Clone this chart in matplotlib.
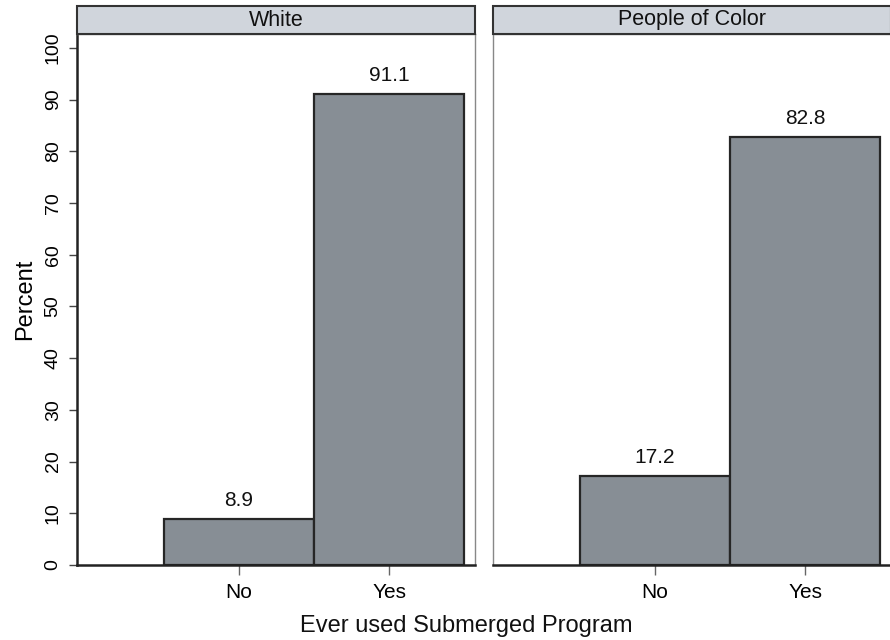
import matplotlib.pyplot as plt
from matplotlib.patches import Rectangle

plt.rcParams['font.family'] = ['Liberation Sans', 'DejaVu Sans']

categories = ['No', 'Yes']
panels = ['White', 'People of Color']
white_pct = [8.9, 91.1]
poc_pct = [17.2, 82.8]
yticks = [0, 10, 20, 30, 40, 50, 60, 70, 80, 90, 100]

bar_color = '#878e95'
edge_color = '#262626'
strip_color = '#d0d5dc'

fig = plt.figure(figsize=(8.9, 6.4), dpi=100)
ax_w = fig.add_axes([77 / 890, 1 - 565 / 640, 398 / 890, 531 / 640])
ax_p = fig.add_axes([493 / 890, 1 - 565 / 640, 398 / 890, 531 / 640])

for ax, title, vals in zip([ax_w, ax_p], panels, [white_pct, poc_pct]):
    x = list(range(len(categories)))
    bars = ax.bar(x, vals, width=1.0, color=bar_color, edgecolor=edge_color, linewidth=1.6)
    for b, v in zip(bars, vals):
        ax.text(b.get_x() + b.get_width() / 2, v + 1.8, f'{v:.1f}',
                ha='center', va='bottom', fontsize=15, color='#111111')
    ax.set_xlim(-1.08, 1.573)
    ax.set_ylim(0, 102.7)
    ax.set_xticks(x)
    ax.set_xticklabels(categories, fontsize=15)
    ax.tick_params(axis='x', length=7, width=1, color='#666666', pad=6)
    for s in ['top', 'right', 'left']:
        ax.spines[s].set_color('#888888')
        ax.spines[s].set_linewidth(1)
    ax.spines['bottom'].set_color('#222222')
    ax.spines['bottom'].set_linewidth(1.8)

    # strip header
    bb = ax.get_position()
    fig.patches.append(Rectangle((bb.x0, 1 - 34 / 640), bb.width, 28 / 640,
                                 transform=fig.transFigure, facecolor=strip_color,
                                 edgecolor='#333333', linewidth=1.5, zorder=3))
    fig.text(bb.x0 + bb.width / 2, 1 - 20 / 640, title, ha='center', va='center',
             fontsize=15.5, color='#111111', zorder=4)

ax_w.set_yticks(yticks)
ax_w.set_yticklabels([str(t) for t in yticks], rotation=90, va='center', fontsize=14)
ax_w.tick_params(axis='y', length=6, width=1, color='#444444', pad=5)
ax_w.spines['left'].set_color('#222222')
ax_w.spines['left'].set_linewidth(1.8)
ax_w.set_ylabel('Percent', fontsize=17, labelpad=6)

ax_p.set_yticks([])

fig.text(466 / 890, 1 - 626 / 640, 'Ever used Submerged Program', ha='center', va='center',
         fontsize=17, color='#111111')

plt.savefig('out.png', dpi=100)
